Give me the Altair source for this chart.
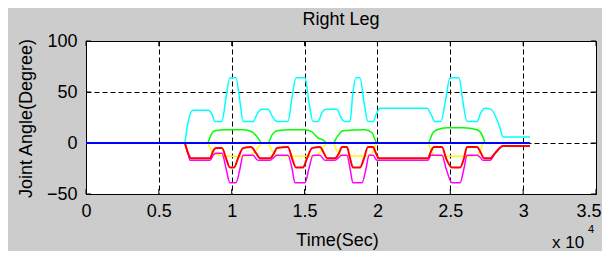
import altair as alt
import pandas as pd

FONT = "Liberation Sans"

# ---- data (time in seconds, angle in degrees) ----
t_cyan = [6790, 7000, 7340, 8370, 8650, 8850, 9330, 9610, 9880, 10290, 10570, 10780,
          11460, 11800, 12080, 12490, 12830, 13110, 13860, 14140, 14410, 15030, 15300,
          15580, 15920, 16200, 16470, 17230, 17500, 17710, 18120, 18320, 18530, 18800,
          19080, 19350, 19700, 19970, 20180, 23400, 23680, 23950, 24360, 24710, 24980,
          25600, 25870, 26150, 26830, 27110, 27380, 27800, 28140, 28410, 28620, 30470]
v_cyan = [0, 20, 32, 32, 28, 21, 21, 45, 64, 64, 40, 21,
          21, 30, 33, 33, 25, 21, 21, 45, 64, 64, 40,
          21, 21, 30, 33, 33, 25, 21, 21, 50, 64, 64,
          40, 21, 21, 30, 34, 34, 28, 21, 21, 45, 64,
          64, 40, 21, 21, 30, 34, 33, 25, 15, 6, 6]

t_green = [8370, 8580, 8850, 9540, 10780, 11390, 11800, 12080, 12490, 12770, 13110,
           14000, 15030, 15510, 15920, 16260, 16540, 16950, 17230, 17640, 19150, 19630,
           19970, 23470, 23810, 24090, 24780, 25870, 26830, 27180, 27380]
v_green = [0, 8, 12, 13, 13, 11, 5, 0, 0, 8, 12,
           13, 13, 11, 5, 3, 0, 0, 6, 12, 13, 10,
           0, 0, 10, 13, 15, 15, 13, 8, 0]

t_yellow = [8370, 8650, 8990, 9540, 10780, 11390, 11800, 12080, 12490, 12770, 13110,
            14000, 15510, 15920, 16260, 16540, 16950, 17230, 17640, 19150, 19630, 19970,
            23470, 23680, 23950, 24780, 26150, 26830, 27250]
v_yellow = [0, -8, -11, -13, -13, -11, -5, 0, 0, -8, -12,
            -13, -13, -11, -5, 0, 0, -8, -12, -13, -10, 0,
            0, -8, -12, -13, -13, -12, 0]

t_red = [6790, 7000, 7210, 8510, 8720, 8920, 9330, 9610, 9880, 10160, 10430, 10780,
         11320, 11670, 11940, 12630, 12900, 13110, 13860, 14140, 14410, 14890, 15170,
         15510, 16060, 16330, 16540, 17090, 17360, 17570, 17910, 18120, 18320, 18800,
         19080, 19350, 19700, 19900, 20110, 23470, 23680, 23880, 24430, 24710, 25120,
         25670, 25940, 26150, 26830, 27110, 27310, 27730, 28070, 28620, 30470]
v_red = [0, -10, -15, -15, -8, -5, -5, -15, -24, -24, -15, -5,
         -4, -10, -15, -15, -10, -5, -4, -15, -24, -24, -15,
         -5, -4, -10, -15, -15, -10, -4, -4, -15, -24, -24,
         -15, -4, -4, -10, -15, -15, -8, -4, -4, -15, -24,
         -24, -15, -4, -4, -10, -15, -15, -10, -3, -3]

t_magenta = [6790, 7000, 7140, 8510, 8720, 8920, 9330, 9610, 9880, 10290, 10570, 10780,
             11460, 11800, 12630, 12900, 13110, 13860, 14140, 14340, 15030, 15300, 15580,
             16060, 16400, 17090, 17360, 17570, 17910, 18120, 18320, 18940, 19220, 19420,
             19700, 19970, 23470, 23680, 24430, 24710, 25120, 25670, 25940, 26150, 26830,
             27110, 27250, 27730, 28070, 28620, 30470]
v_magenta = [0, -10, -17, -17, -12, -10, -10, -25, -39, -39, -25, -12,
             -12, -17, -17, -14, -12, -12, -25, -39, -39, -25, -12,
             -12, -17, -17, -14, -12, -12, -25, -39, -39, -25, -12,
             -12, -17, -17, -12, -12, -25, -39, -39, -25, -12, -12,
             -15, -17, -17, -10, -3, -3]

t_blue = [0, 30470]
v_blue = [0, 0]

x_ticks = [0, 5000, 10000, 15000, 20000, 25000, 30000, 35000]
y_ticks = [-50, 0, 50, 100]

title_text = ["Right Leg"]
exp_text = ["x 10"]
pow_text = ["4"]

W, H = 510, 153

x_scale = alt.Scale(domain=[0, 35000], nice=False, zero=False)
y_scale = alt.Scale(domain=[-50, 100], nice=False, zero=False)

x_axis = alt.Axis(values=x_ticks, labelExpr="format(datum.value / 10000, '~g')",
                  grid=True, gridColor="black", gridDash=[5, 3], gridWidth=1, gridOpacity=1,
                  ticks=False, tickSize=0, domain=False,
                  labelFont=FONT, labelFontSize=18, labelColor="black", labelPadding=8,
                  labelFlush=True, labelFlushOffset=5, labelOverlap=False,
                  title="Time(Sec)", titleFont=FONT, titleFontSize=18, titleFontWeight="normal",
                  titleColor="black", titleX=251, titleY=51, titleBaseline="alphabetic",
                  titleAlign="center")
y_axis = alt.Axis(values=y_ticks, grid=True, gridColor="black", gridDash=[5, 3], gridWidth=1,
                  gridOpacity=1, ticks=False, tickSize=0, domain=False,
                  labelFont=FONT, labelFontSize=18, labelColor="black", labelPadding=9,
                  labelFlush=False, labelOverlap=False,
                  title="Joint Angle(Degree)", titleFont=FONT, titleFontSize=18,
                  titleFontWeight="normal", titleColor="black", titleAngle=270,
                  titleX=-55, titleY=77, titleBaseline="alphabetic", titleAlign="center")

X = alt.X("t:Q", scale=x_scale, axis=x_axis)
Y = alt.Y("v:Q", scale=y_scale, axis=y_axis)


def line(t, v, color, width):
    df = pd.DataFrame({"t": t, "v": v})
    return alt.Chart(df).mark_line(color=color, strokeWidth=width, interpolate="monotone",
                                   clip=True).encode(x=X, y=Y)


def label(texts, size, x, y, align):
    return alt.Chart(pd.DataFrame({"s": texts})).mark_text(
        font=FONT, fontSize=size, color="black", align=align, baseline="alphabetic").encode(
        text="s:N", x=alt.value(x), y=alt.value(y))


xt = pd.DataFrame({"t": x_ticks})
yt = pd.DataFrame({"v": y_ticks})
bottom_ticks = alt.Chart(xt).mark_rule(color="black", strokeWidth=1).encode(
    x=X, y=alt.value(H), y2=alt.value(H - 5))
top_ticks = alt.Chart(xt).mark_rule(color="black", strokeWidth=1).encode(
    x=X, y=alt.value(0), y2=alt.value(5))
left_ticks = alt.Chart(yt).mark_rule(color="black", strokeWidth=1).encode(
    y=Y, x=alt.value(0), x2=alt.value(5))
right_ticks = alt.Chart(yt).mark_rule(color="black", strokeWidth=1).encode(
    y=Y, x=alt.value(W), x2=alt.value(W - 5))

chart = alt.layer(
    bottom_ticks, top_ticks, left_ticks, right_ticks,
    line(t_cyan, v_cyan, "#00FFFF", 1.5),
    line(t_green, v_green, "#00FF00", 1.5),
    line(t_yellow, v_yellow, "#FFFF00", 1.5),
    line(t_magenta, v_magenta, "#FF00FF", 1.5),
    line(t_red, v_red, "#FF0000", 2),
    line(t_blue, v_blue, "#0000FF", 2),
    label(title_text, 18, 255, -16, "center"),
    label(exp_text, 17, 466, 207, "left"),
    label(pow_text, 11, 502, 192, "left"),
).properties(
    width=W, height=H,
    autosize=alt.AutoSizeParams(type="none"),
    padding={"left": 78, "top": 33, "right": 6, "bottom": 57},
    background="#cccccc",
).configure_view(stroke="black", strokeWidth=1, fill="white")

chart.save("out.html", embed_options={"renderer": "svg", "actions": False})
